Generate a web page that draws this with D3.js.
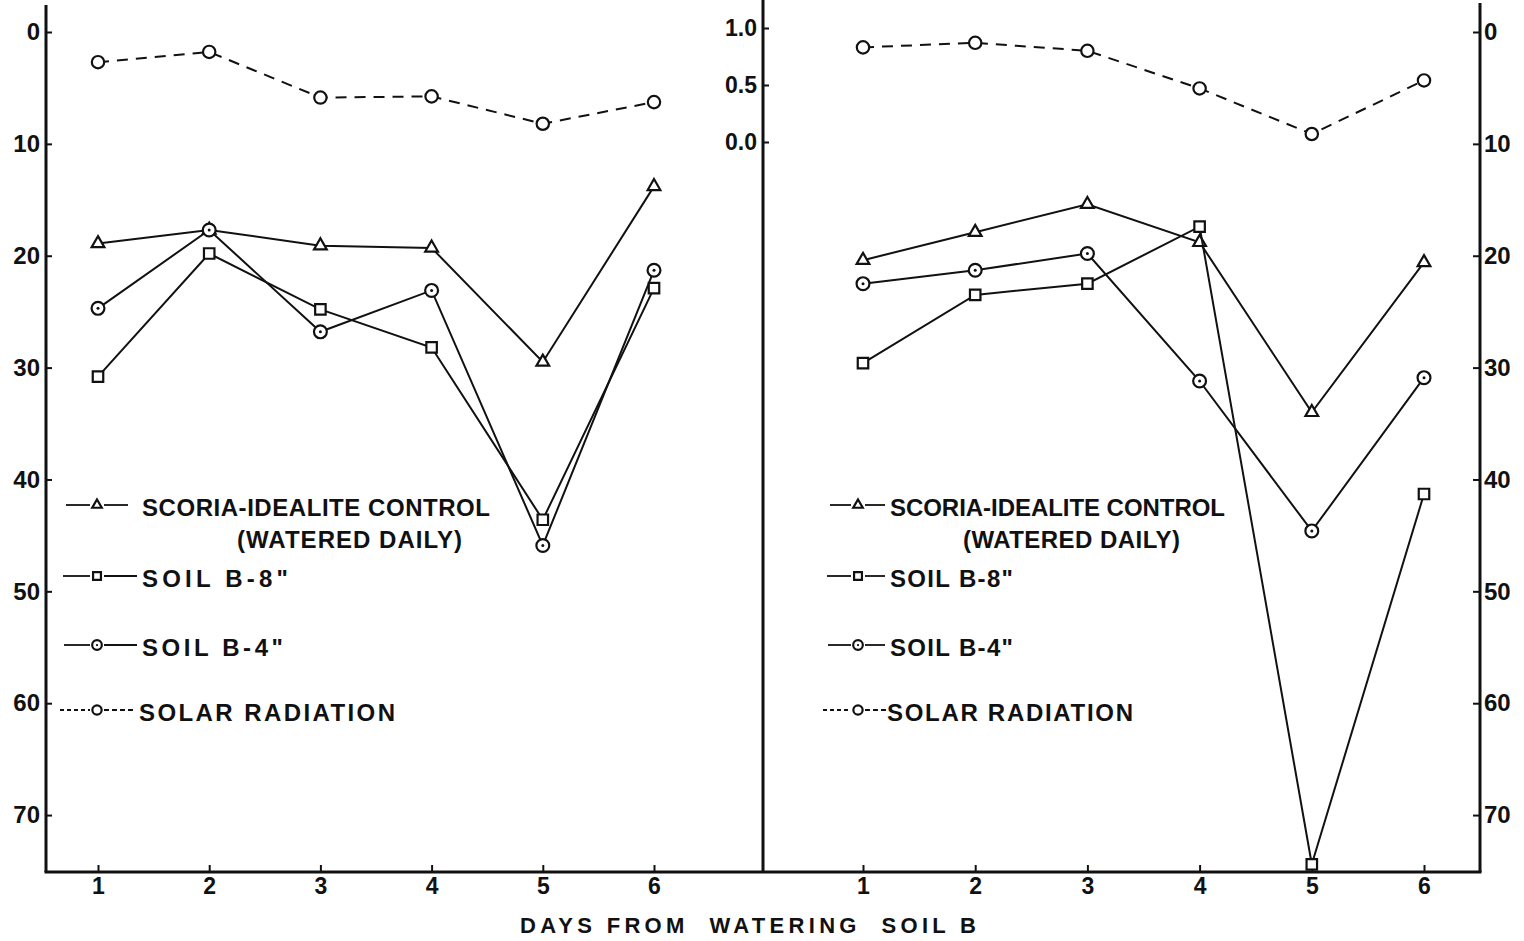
<!DOCTYPE html>
<html><head><meta charset="utf-8">
<script src="https://cdn.jsdelivr.net/npm/d3@7"></script>
<style>
body{margin:0;background:#fff}
text{font-family:"Liberation Sans",Arial,sans-serif;font-weight:bold;fill:#111}
</style>
</head><body>
<svg id="chart" width="1524" height="941"></svg>
<script>
// ---------------- data ----------------
const days = [1, 2, 3, 4, 5, 6];
const depthTicks = [0, 10, 20, 30, 40, 50, 60, 70];
const solarTicks = [1.0, 0.5, 0.0];
const dayTicks = [1, 2, 3, 4, 5, 6];

// left panel
const leftScoria = [18.9, 17.7, 19.1, 19.3, 29.5, 13.8];
const leftSoilB8 = [30.8, 19.8, 24.8, 28.2, 43.6, 22.9];
const leftSoilB4 = [24.7, 17.7, 26.8, 23.1, 45.9, 21.3];
const leftSolar  = [0.70, 0.79, 0.39, 0.40, 0.16, 0.35];

// right panel
const rightScoria = [20.4, 17.9, 15.4, 18.8, 34.0, 20.6];
const rightSoilB8 = [29.6, 23.5, 22.5, 17.4, 74.4, 41.3];
const rightSoilB4 = [22.5, 21.3, 19.8, 31.2, 44.6, 30.9];
const rightSolar  = [0.83, 0.87, 0.80, 0.47, 0.07, 0.54];

const legendLabels = ["SCORIA-IDEALITE CONTROL", "(WATERED DAILY)", 'SOIL B-8"', 'SOIL B-4"', "SOLAR RADIATION"];
const axisTitle = "DAYS FROM  WATERING  SOIL B";

// ---------------- layout ----------------
const svg = d3.select("#chart");
const INK = "#111";
const y = d3.scaleLinear().domain([0, 75]).range([32, 871]);
const ySolar = d3.scaleLinear().domain([0, 1]).range([142, 28]);
const xL = d3.scaleLinear().domain([1, 6]).range([98, 654]);
const xR = d3.scaleLinear().domain([1, 6]).range([863, 1424]);
const baseY = 872, leftX = 46, midX = 763, rightX = 1480;

// axis lines
const axisG = svg.append("g").attr("stroke", INK).attr("stroke-width", 3).attr("fill", "none");
axisG.append("line").attr("x1", leftX).attr("x2", leftX).attr("y1", 5).attr("y2", baseY);
axisG.append("line").attr("x1", midX).attr("x2", midX).attr("y1", 0).attr("y2", baseY);
axisG.append("line").attr("x1", rightX).attr("x2", rightX).attr("y1", 3).attr("y2", baseY);
axisG.append("line").attr("x1", leftX - 1.5).attr("x2", rightX + 1.5).attr("y1", baseY).attr("y2", baseY);

function styleAxis(g, size) {
  g.select(".domain").remove();
  g.selectAll(".tick line").attr("stroke", INK).attr("stroke-width", 2);
  g.selectAll(".tick text").attr("font-size", size).attr("fill", INK)
    .attr("font-family", '"Liberation Sans",Arial,sans-serif').attr("font-weight", "bold");
}

svg.append("g").attr("transform", `translate(${leftX},0)`)
  .call(d3.axisLeft(y).tickValues(depthTicks).tickSize(-6).tickPadding(6).tickFormat(d3.format("d")))
  .call(g => styleAxis(g, 24));
svg.append("g").attr("transform", `translate(${rightX},0)`)
  .call(d3.axisRight(y).tickValues(depthTicks).tickSize(-7).tickPadding(4).tickFormat(d3.format("d")))
  .call(g => styleAxis(g, 24));
svg.append("g").attr("transform", `translate(${midX},0)`)
  .call(d3.axisLeft(ySolar).tickValues(solarTicks).tickSize(-6).tickPadding(6).tickFormat(d3.format(".1f")))
  .call(g => styleAxis(g, 23));
svg.append("g").attr("transform", `translate(0,${baseY})`)
  .call(d3.axisBottom(xL).tickValues(dayTicks).tickSize(-7).tickPadding(6).tickFormat(d3.format("d")))
  .call(g => styleAxis(g, 23));
svg.append("g").attr("transform", `translate(0,${baseY})`)
  .call(d3.axisBottom(xR).tickValues(dayTicks).tickSize(-7).tickPadding(6).tickFormat(d3.format("d")))
  .call(g => styleAxis(g, 23));

svg.append("text").attr("x", 520).attr("y", 933).attr("font-size", 22)
  .attr("textLength", 456).attr("lengthAdjust", "spacing")
  .style("white-space", "pre").text(axisTitle);

// ---------------- series ----------------
const symbolPaths = {
  triangle: s => d3.symbol(d3.symbolTriangle, 70 * s * s)(),
  square: s => d3.symbol(d3.symbolSquare, 110 * s * s)(),
  circle: s => d3.symbol(d3.symbolCircle, 120 * s * s)(),
  dotcircle: s => d3.symbol(d3.symbolCircle, 130 * s * s)()
};

function drawMarker(g, type, cx, cy, s) {
  g.append("path").attr("d", symbolPaths[type](s))
    .attr("transform", `translate(${cx},${cy})`)
    .attr("fill", "#fff").attr("stroke", INK).attr("stroke-width", 2.2);
  if (type === "dotcircle")
    g.append("circle").attr("cx", cx).attr("cy", cy).attr("r", 1.5 * s).attr("fill", INK);
}

function drawSeries(values, xs, ys, type, dashed) {
  const g = svg.append("g");
  const line = d3.line().x((d, i) => xs(days[i])).y(d => ys(d));
  g.append("path").attr("d", line(values)).attr("fill", "none")
    .attr("stroke", INK).attr("stroke-width", 2)
    .attr("stroke-dasharray", dashed ? "11,8" : null);
  values.forEach((v, i) => drawMarker(g, type, xs(days[i]), ys(v), 1));
}

drawSeries(leftSolar, xL, ySolar, "circle", true);
drawSeries(leftScoria, xL, y, "triangle", false);
drawSeries(leftSoilB8, xL, y, "square", false);
drawSeries(leftSoilB4, xL, y, "dotcircle", false);

drawSeries(rightSolar, xR, ySolar, "circle", true);
drawSeries(rightScoria, xR, y, "triangle", false);
drawSeries(rightSoilB8, xR, y, "square", false);
drawSeries(rightSoilB4, xR, y, "dotcircle", false);

// ---------------- legends ----------------
const legendTypes = ["triangle", null, "square", "dotcircle", "circle"];
const legendBase = [516, 548, 587, 656, 721];

function drawLegend(symX, textX, indentX, widths, lines) {
  const g = svg.append("g");
  legendLabels.forEach((lab, i) => {
    const tx = i === 1 ? indentX : (i === 4 ? textX - 3 : textX);
    g.append("text").attr("x", tx).attr("y", legendBase[i]).attr("font-size", 24)
      .attr("textLength", widths[i]).attr("lengthAdjust", "spacing").text(lab);
    const t = legendTypes[i];
    if (!t) return;
    const cy = legendBase[i] - 11;
    const L = lines[i];
    g.append("line").attr("x1", L[0]).attr("x2", symX - 7).attr("y1", cy).attr("y2", cy)
      .attr("stroke", INK).attr("stroke-width", 1.8).attr("stroke-dasharray", t === "circle" ? "4,3" : null);
    g.append("line").attr("x1", symX + 7).attr("x2", L[1]).attr("y1", cy).attr("y2", cy)
      .attr("stroke", INK).attr("stroke-width", 1.8).attr("stroke-dasharray", t === "circle" ? "5,3" : null);
    drawMarker(g, t, symX, cy, 0.75);
  });
}

drawLegend(97, 142, 237, [348, 225, 146, 141, 256],
  [[66, 128], null, [63, 137], [64, 137], [60, 136]]);
drawLegend(858, 890, 963, [335, 217, 123, 123, 246],
  [[830, 885], null, [827, 885], [828, 885], [823, 889]]);
</script>
</body></html>
